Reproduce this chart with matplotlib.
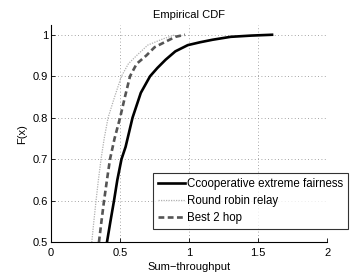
import matplotlib.pyplot as plt
from matplotlib.lines import Line2D

plt.rcParams['font.family'] = ['Liberation Sans', 'DejaVu Sans']
plt.rcParams['font.size'] = 8

# --- curves (x = sum-throughput, y = F(x)) ---
coop_x = [0.405, 0.43, 0.456, 0.48, 0.51, 0.54, 0.59, 0.65, 0.717, 0.77, 0.83, 0.90, 0.99, 1.08, 1.17, 1.30, 1.45, 1.60]
coop_y = [0.50, 0.55, 0.60, 0.65, 0.70, 0.73, 0.80, 0.86, 0.90, 0.92, 0.94, 0.96, 0.975, 0.982, 0.988, 0.995, 0.998, 1.0]

rr_x = [0.295, 0.31, 0.326, 0.343, 0.362, 0.385, 0.413, 0.46, 0.51, 0.56, 0.62, 0.70, 0.81, 0.90]
rr_y = [0.50, 0.55, 0.60, 0.65, 0.70, 0.75, 0.80, 0.85, 0.90, 0.93, 0.95, 0.975, 0.99, 1.0]

b2h_x = [0.347, 0.365, 0.384, 0.405, 0.427, 0.46, 0.50, 0.535, 0.572, 0.62, 0.69, 0.75, 0.81, 0.90, 0.97]
b2h_y = [0.50, 0.55, 0.60, 0.65, 0.70, 0.75, 0.80, 0.85, 0.90, 0.93, 0.95, 0.97, 0.98, 0.995, 1.0]

labels = ["Ccooperative extreme fairness", "Round robin relay", "Best 2 hop"]

fig = plt.figure(figsize=(3.52, 2.73), dpi=100)
ax = fig.add_axes([51 / 352, 1 - 242.3 / 273, (327.3 - 51) / 352, (242.3 - 25) / 273])

ax.plot(coop_x, coop_y, color="black", lw=1.9)
ax.plot(rr_x, rr_y, color="#b0b0b0", lw=0.9, ls=(0, (1, 1)))
ax.plot(b2h_x, b2h_y, color="#555555", lw=1.9, ls=(0, (2.2, 1.3)))

ax.set_xlim(0, 2)
ax.set_ylim(0.5, 1.0235)
ax.set_xticks([0, 0.5, 1, 1.5, 2])
ax.set_xticklabels(["0", "0.5", "1", "1.5", "2"])
ax.set_yticks([0.5, 0.6, 0.7, 0.8, 0.9, 1.0])
ax.set_yticklabels(["0.5", "0.6", "0.7", "0.8", "0.9", "1"])
ax.tick_params(direction="in", length=3, width=0.6, labelsize=8)
ax.tick_params(axis="x", pad=4)
ax.tick_params(axis="y", pad=2)
ax.grid(True, color="#888888", ls=(0, (1, 3)), lw=0.6)
ax.spines["top"].set_visible(False)
ax.spines["right"].set_visible(False)
ax.spines["left"].set_linewidth(0.8)
ax.spines["bottom"].set_linewidth(0.8)

ax.set_title("Empirical CDF", fontsize=8, pad=5)
ax.set_xlabel("Sum\u2212throughput", fontsize=8, labelpad=3)
ax.set_ylabel("F(x)", fontsize=8, labelpad=4)

handles = [
    Line2D([], [], color="black", lw=1.9),
    Line2D([], [], color="#b0b0b0", lw=0.9, ls=(0, (1, 1))),
    Line2D([], [], color="#555555", lw=1.9, ls=(0, (2.2, 1.3))),
]
leg = fig.legend(handles, labels, loc="upper left",
                 bbox_to_anchor=(153 / 352, 1 - 173 / 273),
                 fontsize=8.3, frameon=True, fancybox=False, handlelength=2.4,
                 handletextpad=0.15, borderpad=0.4, labelspacing=0.45,
                 borderaxespad=0)
leg.get_frame().set_edgecolor("black")
leg.get_frame().set_linewidth(0.8)

fig.savefig("out.png", dpi=100)
